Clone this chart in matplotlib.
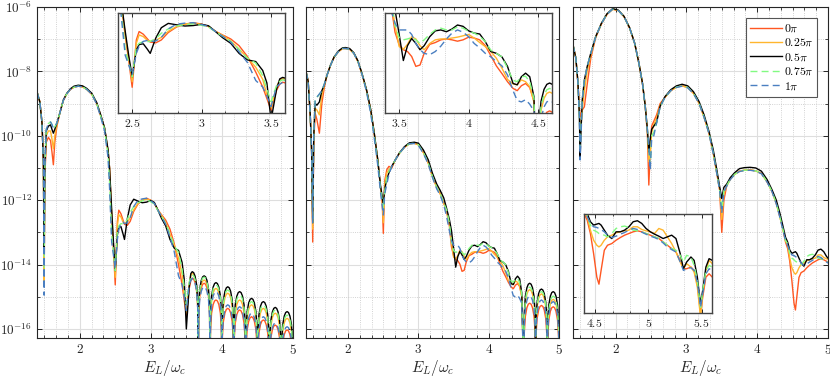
import numpy as np
import matplotlib
matplotlib.use('Agg')
import matplotlib.pyplot as plt
from matplotlib.ticker import MultipleLocator, FuncFormatter, NullFormatter

plt.rcParams['mathtext.fontset'] = 'cm'
plt.rcParams['font.family'] = 'serif'
plt.rcParams['font.serif'] = ['DejaVu Serif']

# phase labels / colours
labels = [r'$0\pi$', r'$0.25\pi$', r'$0.5\pi$', r'$0.75\pi$', r'$1\pi$']
colors = ['#FF5722', '#FFB62E', '#000000', '#82FA82', '#4A7FC1']
styles = ['-', '-', '-', '--', '--']

# ---------------- panel 1 (log10 of signal) ----------------
x1 = [1.40, 1.44, 1.47, 1.49, 1.50, 1.51, 1.53, 1.56, 1.59, 1.61, 1.63, 1.65, 1.68, 1.72, 1.77,
      1.82, 1.87, 1.92, 1.98, 2.04, 2.10, 2.17, 2.24, 2.30, 2.35, 2.40, 2.42, 2.45, 2.475, 2.50,
      2.53, 2.55, 2.58, 2.61, 2.63, 2.67, 2.71, 2.76, 2.82, 2.88, 2.94, 3.00, 3.05, 3.10, 3.15,
      3.21, 3.27, 3.33, 3.39, 3.44, 3.47, 3.50, 3.54,
      3.563, 3.583, 3.603, 3.623, 3.645, 3.66, 3.667,
      3.673, 3.688, 3.71, 3.73, 3.75, 3.77, 3.79, 3.812, 3.827, 3.833,
      3.84, 3.855, 3.877, 3.897, 3.917, 3.937, 3.957, 3.979, 3.994, 4.0,
      4.006, 4.021, 4.043, 4.063, 4.083, 4.103, 4.123, 4.145, 4.16, 4.167,
      4.173, 4.188, 4.21, 4.23, 4.25, 4.27, 4.29, 4.312, 4.327, 4.333,
      4.34, 4.355, 4.377, 4.397, 4.417, 4.437, 4.457, 4.479, 4.494, 4.5,
      4.506, 4.521, 4.543, 4.563, 4.583, 4.603, 4.623, 4.645, 4.66, 4.667,
      4.673, 4.688, 4.71, 4.73, 4.75, 4.77, 4.79, 4.812, 4.827, 4.833,
      4.84, 4.855, 4.877, 4.897, 4.917, 4.937, 4.957, 4.979, 4.994, 5.0]
p1_0 = [-8.64, -8.95, -9.6, -10.8, -14.4, -11.3, -10.2, -10.05, -10.15, -10.5, -10.9, -10.2, -9.7, -9.3, -8.9,
        -8.69, -8.56, -8.49, -8.46, -8.48, -8.56, -8.71, -9.0, -9.4, -9.77, -10.5, -11.0, -12.5, -13.5, -14.63,
        -12.66, -12.31, -12.42, -12.62, -12.75, -12.78, -12.66, -12.35, -12.12, -12.0, -11.94, -12.0, -12.1, -12.3, -12.45,
        -12.62, -12.9, -13.35, -14.0, -14.62, -15.1, -15.58, -14.75,
        -14.5, -14.42, -14.45, -14.56, -14.83, -15.34, -17.5,
        -15.50, -14.99, -14.72, -14.61, -14.58, -14.61, -14.72, -14.99, -15.50, -17.5,
        -16.02, -15.51, -15.24, -15.13, -15.10, -15.13, -15.24, -15.51, -16.02, -17.5,
        -16.28, -15.77, -15.50, -15.39, -15.36, -15.39, -15.50, -15.77, -16.28, -17.5,
        -16.33, -15.82, -15.55, -15.44, -15.41, -15.44, -15.55, -15.82, -16.33, -17.5,
        -16.54, -16.03, -15.76, -15.65, -15.62, -15.65, -15.76, -16.03, -16.54, -17.5,
        -16.64, -16.13, -15.86, -15.75, -15.72, -15.75, -15.86, -16.13, -16.64, -17.5,
        -16.80, -16.29, -16.02, -15.91, -15.88, -15.91, -16.02, -16.29, -16.80, -17.5,
        -16.95, -16.44, -16.17, -16.06, -16.03, -16.06, -16.17, -16.44, -16.95, -17.5]
p1_025 = [-8.64, -8.95, -9.6, -10.8, -14.6, -11.2, -10.0, -9.85, -9.85, -10.1, -10.4, -10.0, -9.65, -9.3, -8.9,
          -8.69, -8.56, -8.49, -8.46, -8.48, -8.56, -8.71, -9.0, -9.4, -9.77, -10.5, -11.0, -12.45, -13.4, -14.4,
          -12.8, -12.45, -12.52, -12.68, -12.72, -12.68, -12.55, -12.3, -12.1, -12.0, -11.97, -12.01, -12.1, -12.3, -12.47,
          -12.7, -13.05, -13.4, -13.8, -14.3, -14.95, -15.5, -14.6,
          -14.33, -14.27, -14.30, -14.41, -14.68, -15.19, -17.5,
          -15.40, -14.89, -14.62, -14.51, -14.48, -14.51, -14.62, -14.89, -15.40, -17.5,
          -15.66, -15.15, -14.88, -14.77, -14.74, -14.77, -14.88, -15.15, -15.66, -17.5,
          -15.81, -15.30, -15.03, -14.92, -14.89, -14.92, -15.03, -15.30, -15.81, -17.5,
          -16.02, -15.51, -15.24, -15.13, -15.10, -15.13, -15.24, -15.51, -16.02, -17.5,
          -16.17, -15.66, -15.39, -15.28, -15.25, -15.28, -15.39, -15.66, -16.17, -17.5,
          -16.28, -15.77, -15.50, -15.39, -15.36, -15.39, -15.50, -15.77, -16.28, -17.5,
          -16.43, -15.92, -15.65, -15.54, -15.51, -15.54, -15.65, -15.92, -16.43, -17.5,
          -16.59, -16.08, -15.81, -15.70, -15.67, -15.70, -15.81, -16.08, -16.59, -17.5]
p1_05 = [-8.64, -8.95, -9.6, -10.8, -13.6, -11.0, -9.85, -9.7, -9.66, -9.8, -9.92, -9.8, -9.6, -9.3, -8.89,
         -8.68, -8.54, -8.46, -8.43, -8.45, -8.53, -8.68, -8.97, -9.38, -9.75, -10.45, -11.0, -12.3, -13.3, -14.19,
         -13.08, -12.85, -12.82, -13.05, -13.22, -12.58, -12.15, -11.97, -12.03, -12.08, -12.06, -12.01, -12.07, -12.31, -12.56,
         -12.8, -13.22, -13.49, -13.56, -13.93, -14.45, -16.0, -14.7,
         -14.28, -14.22, -14.25, -14.36, -14.63, -15.14, -17.5,
         -15.27, -14.76, -14.49, -14.38, -14.35, -14.38, -14.49, -14.76, -15.27, -17.5,
         -15.48, -14.97, -14.70, -14.59, -14.56, -14.59, -14.70, -14.97, -15.48, -17.5,
         -15.61, -15.10, -14.83, -14.72, -14.69, -14.72, -14.83, -15.10, -15.61, -17.5,
         -15.76, -15.25, -14.98, -14.87, -14.84, -14.87, -14.98, -15.25, -15.76, -17.5,
         -15.97, -15.46, -15.19, -15.08, -15.05, -15.08, -15.19, -15.46, -15.97, -17.5,
         -16.07, -15.56, -15.29, -15.18, -15.15, -15.18, -15.29, -15.56, -16.07, -17.5,
         -16.25, -15.74, -15.47, -15.36, -15.33, -15.36, -15.47, -15.74, -16.25, -17.5,
         -16.38, -15.87, -15.60, -15.49, -15.46, -15.49, -15.60, -15.87, -16.38, -17.5]
p1_075 = [-8.64, -8.95, -9.6, -10.8, -14.3, -11.0, -9.8, -9.62, -9.57, -9.65, -9.76, -9.72, -9.6, -9.3, -8.9,
          -8.69, -8.56, -8.49, -8.46, -8.48, -8.56, -8.71, -9.0, -9.42, -9.8, -10.6, -11.4, -13.08, -13.6, -14.19,
          -12.94, -12.8, -12.73, -12.73, -12.72, -12.6, -12.38, -12.2, -12.08, -12.02, -11.99, -12.05, -12.12, -12.32, -12.5,
          -12.72, -13.05, -13.42, -13.62, -14.15, -14.7, -15.23, -14.55,
          -14.38, -14.32, -14.35, -14.46, -14.73, -15.24, -17.5,
          -15.31, -14.80, -14.53, -14.42, -14.39, -14.42, -14.53, -14.80, -15.31, -17.5,
          -15.55, -15.04, -14.77, -14.66, -14.63, -14.66, -14.77, -15.04, -15.55, -17.5,
          -15.71, -15.20, -14.93, -14.82, -14.79, -14.82, -14.93, -15.20, -15.71, -17.5,
          -15.86, -15.35, -15.08, -14.97, -14.94, -14.97, -15.08, -15.35, -15.86, -17.5,
          -16.07, -15.56, -15.29, -15.18, -15.15, -15.18, -15.29, -15.56, -16.07, -17.5,
          -16.17, -15.66, -15.39, -15.28, -15.25, -15.28, -15.39, -15.66, -16.17, -17.5,
          -16.33, -15.82, -15.55, -15.44, -15.41, -15.44, -15.55, -15.82, -16.33, -17.5,
          -16.49, -15.98, -15.71, -15.60, -15.57, -15.60, -15.71, -15.98, -16.49, -17.5]
p1_1 = [-8.64, -8.95, -9.6, -10.8, -14.95, -11.0, -9.8, -9.62, -9.57, -9.65, -9.76, -9.72, -9.6, -9.3, -8.9,
        -8.69, -8.56, -8.49, -8.46, -8.48, -8.56, -8.71, -9.02, -9.45, -9.85, -10.7, -11.6, -13.3, -13.7, -14.12,
        -13.22, -12.92, -12.72, -12.68, -12.73, -12.7, -12.55, -12.2, -12.0, -11.96, -11.94, -12.02, -12.1, -12.31, -12.5,
        -12.75, -13.15, -13.6, -14.35, -14.62, -15.0, -15.43, -14.6,
        -14.5, -14.43, -14.46, -14.57, -14.84, -15.35, -17.5,
        -15.61, -15.10, -14.83, -14.72, -14.69, -14.72, -14.83, -15.10, -15.61, -17.5,
        -15.76, -15.25, -14.98, -14.87, -14.84, -14.87, -14.98, -15.25, -15.76, -17.5,
        -16.17, -15.66, -15.39, -15.28, -15.25, -15.28, -15.39, -15.66, -16.17, -17.5,
        -16.23, -15.72, -15.45, -15.34, -15.31, -15.34, -15.45, -15.72, -16.23, -17.5,
        -16.43, -15.92, -15.65, -15.54, -15.51, -15.54, -15.65, -15.92, -16.43, -17.5,
        -16.54, -16.03, -15.76, -15.65, -15.62, -15.65, -15.76, -16.03, -16.54, -17.5,
        -16.74, -16.23, -15.96, -15.85, -15.82, -15.85, -15.96, -16.23, -16.74, -17.5,
        -16.85, -16.34, -16.07, -15.96, -15.93, -15.96, -16.07, -16.34, -16.85, -17.5]

# ---------------- panel 2 ----------------
x2 = [1.40, 1.43, 1.46, 1.48, 1.495, 1.51, 1.53, 1.555, 1.59, 1.625, 1.66, 1.70, 1.75, 1.80, 1.86,
      1.92, 1.96, 2.02, 2.08, 2.14, 2.20, 2.26, 2.32, 2.37, 2.42, 2.46, 2.485, 2.50, 2.52, 2.55,
      2.58, 2.62, 2.67, 2.73, 2.80, 2.87, 2.94, 3.00, 3.07, 3.14, 3.20, 3.26, 3.31, 3.36,
      3.40, 3.44, 3.47, 3.50, 3.53, 3.56, 3.59, 3.62, 3.65, 3.68, 3.72, 3.76, 3.80, 3.84, 3.88,
      3.92, 3.96, 4.00, 4.04, 4.08, 4.12, 4.16, 4.20, 4.24, 4.28, 4.32, 4.35, 4.38, 4.41, 4.44,
      4.47, 4.50,
      4.506, 4.521, 4.543, 4.563, 4.583, 4.603, 4.623, 4.645, 4.66, 4.667,
      4.673, 4.688, 4.71, 4.73, 4.75, 4.77, 4.79, 4.812, 4.827, 4.833,
      4.84, 4.855, 4.877, 4.897, 4.917, 4.937, 4.957, 4.979, 4.994, 5.0]
p2_0 = [-8.01, -8.3, -9.35, -10.5, -13.3, -10.2, -9.3, -9.5, -9.92, -9.0, -8.5, -8.11, -7.80, -7.56, -7.39,
        -7.29, -7.29, -7.31, -7.44, -7.7, -8.11, -8.58, -9.2, -9.92, -10.75, -11.6, -12.1, -13.03, -11.4, -11.05,
        -10.95, -11.0, -10.75, -10.54, -10.36, -10.25, -10.23, -10.28, -10.52, -10.85, -11.27, -11.6, -11.8, -12.09,
        -12.35, -12.8, -13.45, -13.73, -13.84, -13.88, -13.99, -14.21, -14.18, -13.92, -13.72, -13.68, -13.62, -13.6, -13.62,
        -13.65, -13.62, -13.56, -13.58, -13.62, -13.75, -13.97, -14.2, -14.37, -14.55, -14.7, -14.75, -14.64, -14.59, -14.68,
        -14.98, -17.5,
        -16.12, -15.61, -15.34, -15.23, -15.20, -15.23, -15.34, -15.61, -16.12, -17.5,
        -16.19, -15.68, -15.41, -15.30, -15.27, -15.30, -15.41, -15.68, -16.19, -17.5,
        -16.23, -15.72, -15.45, -15.34, -15.31, -15.34, -15.45, -15.72, -16.23, -17.5]
p2_025 = [-8.01, -8.3, -9.35, -10.5, -12.9, -10.1, -9.15, -9.2, -9.35, -8.75, -8.42, -8.11, -7.80, -7.56, -7.39,
          -7.29, -7.29, -7.31, -7.44, -7.7, -8.11, -8.58, -9.2, -9.92, -10.75, -11.6, -12.0, -12.7, -11.5, -11.15,
          -11.05, -10.97, -10.75, -10.54, -10.36, -10.25, -10.23, -10.28, -10.52, -10.85, -11.27, -11.6, -11.8, -12.09,
          -12.3, -12.7, -13.3, -13.77, -13.83, -13.72, -13.55, -13.6, -13.75, -13.84, -13.7, -13.62, -13.6, -13.6, -13.58,
          -13.56, -13.53, -13.5, -13.58, -13.68, -13.77, -13.88, -14.03, -14.25, -14.5, -14.6, -14.62, -14.51, -14.55, -14.66,
          -15.0, -17.5,
          -15.70, -15.19, -14.92, -14.81, -14.78, -14.81, -14.92, -15.19, -15.70, -17.5,
          -15.83, -15.32, -15.05, -14.94, -14.91, -14.94, -15.05, -15.32, -15.83, -17.5,
          -16.00, -15.49, -15.22, -15.11, -15.08, -15.11, -15.22, -15.49, -16.00, -17.5]
p2_05 = [-8.01, -8.3, -9.35, -10.5, -12.7, -10.0, -9.0, -9.05, -8.95, -8.6, -8.42, -8.11, -7.80, -7.55, -7.37,
         -7.27, -7.26, -7.29, -7.42, -7.68, -8.09, -8.56, -9.18, -9.9, -10.73, -11.55, -11.9, -12.15, -11.65, -11.35,
         -11.15, -10.95, -10.75, -10.53, -10.34, -10.22, -10.2, -10.23, -10.44, -10.75, -11.17, -11.5, -11.7, -11.93,
         -12.25, -12.6, -12.95, -13.5, -14.08, -13.75, -13.59, -13.7, -13.84, -13.75, -13.55, -13.42, -13.40, -13.44, -13.38,
         -13.29, -13.32, -13.42, -13.47, -13.49, -13.66, -13.88, -13.92, -14.0, -14.21, -14.59, -14.62, -14.44, -14.36, -14.44,
         -14.88, -17.5,
         -15.50, -14.99, -14.72, -14.61, -14.58, -14.61, -14.72, -14.99, -15.50, -17.5,
         -15.68, -15.17, -14.90, -14.79, -14.76, -14.79, -14.90, -15.17, -15.68, -17.5,
         -15.76, -15.25, -14.98, -14.87, -14.84, -14.87, -14.98, -15.25, -15.76, -17.5]
p2_075 = [-8.01, -8.3, -9.35, -10.5, -12.7, -10.0, -8.85, -8.8, -8.72, -8.6, -8.4, -8.11, -7.80, -7.56, -7.39,
          -7.29, -7.29, -7.31, -7.44, -7.7, -8.11, -8.6, -9.25, -9.98, -10.8, -11.65, -12.0, -12.3, -11.7, -11.3,
          -11.1, -10.95, -10.75, -10.54, -10.36, -10.25, -10.23, -10.28, -10.52, -10.85, -11.27, -11.6, -11.8, -12.09,
          -12.3, -12.7, -13.3, -13.57, -13.62, -13.6, -13.57, -13.62, -13.7, -13.62, -13.5, -13.4, -13.36, -13.4, -13.4,
          -13.33, -13.36, -13.43, -13.47, -13.54, -13.66, -13.85, -13.92, -14.0, -14.25, -14.52, -14.55, -14.44, -14.43, -14.55,
          -14.92, -17.5,
          -15.62, -15.11, -14.84, -14.73, -14.70, -14.73, -14.84, -15.11, -15.62, -17.5,
          -15.76, -15.25, -14.98, -14.87, -14.84, -14.87, -14.98, -15.25, -15.76, -17.5,
          -15.90, -15.39, -15.12, -15.01, -14.98, -15.01, -15.12, -15.39, -15.90, -17.5]
p2_1 = [-8.01, -8.3, -9.35, -10.5, -12.7, -10.0, -8.9, -8.8, -8.7, -8.6, -8.4, -8.11, -7.80, -7.56, -7.39,
        -7.29, -7.29, -7.31, -7.44, -7.7, -8.12, -8.62, -9.3, -10.05, -10.9, -11.75, -12.2, -12.46, -11.8, -11.5,
        -11.2, -10.95, -10.75, -10.54, -10.36, -10.25, -10.24, -10.3, -10.55, -10.88, -11.3, -11.65, -11.85, -12.15,
        -12.5, -12.95, -13.25, -13.4, -13.4, -13.4, -13.5, -13.7, -13.84, -13.92, -13.95, -13.88, -13.76, -13.6, -13.47,
        -13.4, -13.45, -13.55, -13.7, -13.8, -13.92, -14.0, -14.1, -14.2, -14.4, -14.75, -14.97, -15.0, -14.95, -15.05,
        -15.2, -17.5,
        -15.89, -15.38, -15.11, -15.00, -14.97, -15.00, -15.11, -15.38, -15.89, -17.5,
        -16.02, -15.51, -15.24, -15.13, -15.10, -15.13, -15.24, -15.51, -16.02, -17.5,
        -16.07, -15.56, -15.29, -15.18, -15.15, -15.18, -15.29, -15.56, -16.07, -17.5]

# ---------------- panel 3 ----------------
x3 = [1.40, 1.44, 1.47, 1.49, 1.50, 1.51, 1.53, 1.56, 1.60, 1.65, 1.72, 1.80, 1.88, 1.96, 2.04,
      2.12, 2.20, 2.27, 2.33, 2.38, 2.42, 2.45, 2.47, 2.49, 2.51, 2.54, 2.58, 2.63, 2.70, 2.78,
      2.86, 2.94, 3.02, 3.10, 3.18, 3.25, 3.32, 3.38, 3.43, 3.47, 3.50, 3.53, 3.57, 3.62, 3.68,
      3.75, 3.82, 3.90, 3.98, 4.06, 4.14, 4.21, 4.27, 4.32, 4.36,
      4.40, 4.43, 4.46, 4.49, 4.52, 4.54, 4.56, 4.59, 4.62, 4.66, 4.70, 4.74, 4.78, 4.82, 4.86,
      4.90, 4.94, 4.98, 5.02, 5.06, 5.10, 5.14, 5.18, 5.22, 5.26, 5.30, 5.33, 5.36, 5.40, 5.43,
      5.46, 5.49, 5.51, 5.54, 5.57, 5.60]
p3_0 = [-7.18, -7.59, -8.37, -9.1, -9.4, -9.35, -9.2, -9.1, -8.4, -7.6, -6.95, -6.53, -6.23, -6.07, -6.11,
        -6.3, -6.66, -7.13, -7.75, -8.37, -9.1, -9.95, -11.53, -10.5, -9.7, -9.55, -9.35, -9.0, -8.8, -8.6,
        -8.49, -8.45, -8.5, -8.68, -8.99, -9.42, -9.92, -10.54, -11.16, -11.68, -13.0, -12.0, -11.55, -11.35, -11.2,
        -11.1, -11.07, -11.06, -11.09, -11.17, -11.43, -11.73, -12.1, -12.51, -12.87,
        -13.3, -13.5, -13.9, -14.5, -15.2, -15.41, -15.0, -14.4, -14.25, -14.2, -14.1, -14.02, -13.95, -13.9, -13.85,
        -13.82, -13.85, -13.9, -13.95, -14.0, -14.05, -14.15, -14.25, -14.35, -14.45, -14.7, -14.95, -14.95, -14.9, -15.0,
        -15.4, -16.3, -15.8, -15.2, -15.1, -15.2]
p3_025 = [-7.18, -7.59, -8.37, -9.3, -10.0, -9.8, -9.2, -8.6, -8.0, -7.5, -6.93, -6.52, -6.22, -6.07, -6.11,
          -6.3, -6.66, -7.13, -7.75, -8.37, -9.1, -9.88, -10.8, -10.6, -9.9, -9.65, -9.45, -9.05, -8.8, -8.6,
          -8.49, -8.45, -8.5, -8.68, -8.99, -9.42, -9.92, -10.54, -11.16, -11.68, -12.6, -11.8, -11.55, -11.35, -11.2,
          -11.1, -11.07, -11.06, -11.09, -11.17, -11.43, -11.73, -12.1, -12.51, -12.87,
          -13.25, -13.4, -13.8, -14.1, -14.25, -14.3, -14.25, -14.1, -14.0, -13.95, -13.88, -13.85, -13.82, -13.8, -13.7,
          -13.7, -13.78, -13.82, -13.85, -13.9, -13.75, -13.8, -14.0, -14.2, -14.45, -14.75, -14.95, -14.8, -14.9, -15.05,
          -15.5, -16.4, -15.7, -15.0, -14.7, -14.8]
p3_05 = [-7.18, -7.59, -8.37, -9.41, -10.7, -10.0, -8.89, -8.27, -7.85, -7.44, -6.92, -6.51, -6.21, -6.05, -6.1,
         -6.29, -6.65, -7.12, -7.74, -8.36, -9.08, -9.8, -10.5, -10.1, -9.8, -9.7, -9.58, -9.08, -8.78, -8.57,
         -8.45, -8.40, -8.45, -8.63, -8.94, -9.35, -9.87, -10.44, -11.06, -11.58, -11.95, -11.6, -11.5, -11.3, -11.15,
         -11.02, -10.99, -10.98, -11.0, -11.1, -11.36, -11.68, -12.0, -12.4, -12.77,
         -13.15, -13.3, -13.55, -13.65, -13.62, -13.6, -13.65, -13.8, -13.95, -14.05, -13.85, -13.85, -13.8, -13.7, -13.55,
         -13.52, -13.6, -13.75, -13.85, -13.92, -13.98, -14.05, -14.0, -13.95, -14.05, -14.5, -14.95, -14.75, -14.6, -14.7,
         -15.2, -16.0, -15.6, -14.9, -14.65, -14.7]
p3_075 = [-7.18, -7.59, -8.37, -9.41, -10.4, -10.0, -8.85, -8.3, -7.85, -7.45, -6.93, -6.52, -6.22, -6.07, -6.11,
          -6.3, -6.66, -7.13, -7.75, -8.37, -9.1, -9.82, -10.4, -10.9, -10.0, -9.9, -9.6, -9.1, -8.8, -8.6,
          -8.49, -8.45, -8.5, -8.68, -8.99, -9.42, -9.92, -10.54, -11.16, -11.68, -12.3, -11.7, -11.55, -11.35, -11.2,
          -11.1, -11.07, -11.06, -11.09, -11.17, -11.43, -11.73, -12.1, -12.51, -12.87,
          -13.25, -13.35, -13.65, -13.8, -13.85, -13.9, -13.92, -13.95, -14.0, -13.9, -13.75, -13.7, -13.68, -13.72, -13.8,
          -13.82, -13.85, -13.9, -13.95, -14.0, -14.05, -14.15, -14.25, -14.35, -14.4, -14.55, -14.75, -14.55, -14.6, -14.85,
          -15.3, -16.1, -15.6, -15.0, -14.85, -14.9]
p3_1 = [-7.18, -7.59, -8.37, -9.41, -10.75, -10.2, -8.9, -8.3, -7.85, -7.45, -6.93, -6.52, -6.22, -6.07, -6.11,
        -6.3, -6.66, -7.13, -7.75, -8.37, -9.12, -9.85, -10.3, -11.06, -10.1, -10.0, -9.6, -9.1, -8.8, -8.6,
        -8.5, -8.46, -8.51, -8.69, -9.0, -9.43, -9.94, -10.56, -11.18, -11.7, -12.4, -11.75, -11.56, -11.36, -11.21,
        -11.11, -11.08, -11.07, -11.1, -11.18, -11.44, -11.74, -12.12, -12.53, -12.9,
        -13.25, -13.4, -13.6, -13.7, -13.72, -13.75, -13.78, -13.85, -13.95, -14.02, -13.98, -13.92, -13.87, -13.8, -13.75,
        -13.78, -13.86, -13.92, -13.98, -14.02, -14.08, -14.18, -14.3, -14.38, -14.45, -14.75, -15.0, -14.95, -14.92, -15.0,
        -15.35, -16.1, -15.7, -15.1, -14.95, -15.0]

panels = [
    (x1, [p1_0, p1_025, p1_05, p1_075, p1_1]),
    (x2, [p2_0, p2_025, p2_05, p2_075, p2_1]),
    (x3, [p3_0, p3_025, p3_05, p3_075, p3_1]),
]

# insets: x range and log10 y range
inset_xlim = [(2.4, 3.6), (3.4, 4.6), (4.4, 5.6)]
inset_ylog = [(-15.69, -11.55), (-15.24, -13.03), (-16.26, -13.32)]
inset_pos = [[0.1425, 0.7026, 0.2008, 0.2623],
             [0.4642, 0.7026, 0.2008, 0.2623],
             [0.7036, 0.1749, 0.1546, 0.2604]]
main_pos = [[0.0446, 0.1082, 0.3084, 0.8734],
            [0.3687, 0.1082, 0.3048, 0.8734],
            [0.6904, 0.1082, 0.3072, 0.8734]]

ink = '#262626'
fmt_x = FuncFormatter(lambda v, p: r'$%g$' % round(v, 3))


def draw_lines(ax, x, ys, lw):
    for y, c, ls, lab in zip(ys, colors, styles, labels):
        if ls == '--':
            ax.plot(x, 10.0 ** np.array(y), color=c, lw=lw, ls=ls, dashes=(5, 3), label=lab)
        else:
            ax.plot(x, 10.0 ** np.array(y), color=c, lw=lw, ls=ls, label=lab)


fig = plt.figure(figsize=(8.3, 3.79), dpi=100)

for i, (x, ys) in enumerate(panels):
    ax = fig.add_axes(main_pos[i])
    ax.set_yscale('log')
    draw_lines(ax, x, ys, 1.0)
    ax.set_xlim(1.4, 5)
    ax.set_ylim(10 ** -16.28, 1e-6)
    ax.xaxis.set_major_locator(MultipleLocator(1))
    ax.xaxis.set_minor_locator(MultipleLocator(1 / 6))
    ax.xaxis.set_major_formatter(fmt_x)
    ax.set_yticks([10.0 ** -k for k in range(6, 17, 2)])
    ax.set_yticks([10.0 ** -k for k in range(7, 17, 2)], minor=True)
    ax.yaxis.set_minor_formatter(NullFormatter())
    if i == 0:
        ax.set_yticklabels([r'$10^{-%d}$' % k for k in range(6, 17, 2)])
    else:
        ax.set_yticklabels([])
    ax.grid(which='major', color='#dedede', lw=0.8, ls='-')
    ax.grid(which='minor', color='#c4c4c4', lw=0.6, ls=':')
    ax.set_axisbelow(True)
    ax.tick_params(which='both', direction='in', top=True, right=True, color=ink,
                   labelsize=9.5, labelcolor=ink)
    ax.tick_params(which='major', length=3.5, width=0.7)
    ax.tick_params(which='minor', length=2, width=0.6)
    for s in ax.spines.values():
        s.set_color(ink)
        s.set_linewidth(0.8)
    ax.set_xlabel(r'$E_L/\omega_c$', fontsize=11, color=ink, labelpad=1)

    if i == 2:
        leg = ax.legend(loc='upper right', fontsize=8.5, frameon=True, fancybox=False,
                        edgecolor='#555555', framealpha=1, handlelength=2.7,
                        borderpad=0.35, labelspacing=0.12, handletextpad=0.15,
                        borderaxespad=0.9)
        leg.get_frame().set_linewidth(0.8)

    axi = fig.add_axes(inset_pos[i])
    axi.set_yscale('log')
    draw_lines(axi, x, ys, 1.0)
    axi.set_xlim(*inset_xlim[i])
    axi.set_ylim(10 ** inset_ylog[i][0], 10 ** inset_ylog[i][1])
    axi.xaxis.set_major_locator(MultipleLocator(0.5))
    axi.xaxis.set_minor_locator(MultipleLocator(1 / 6))
    axi.xaxis.set_major_formatter(fmt_x)
    axi.set_yticks([])
    axi.set_yticks([], minor=True)
    axi.grid(which='major', axis='x', color='#dedede', lw=0.8, ls='-')
    axi.grid(which='minor', axis='x', color='#c4c4c4', lw=0.6, ls=':')
    axi.set_axisbelow(True)
    axi.tick_params(which='both', direction='in', top=True, color=ink,
                    labelsize=8.5, labelcolor=ink, pad=3)
    axi.tick_params(which='major', length=3, width=0.7)
    axi.tick_params(which='minor', length=1.6, width=0.6)
    for s in axi.spines.values():
        s.set_color('#444444')
        s.set_linewidth(1.0)

fig.savefig('out.png', dpi=100)
